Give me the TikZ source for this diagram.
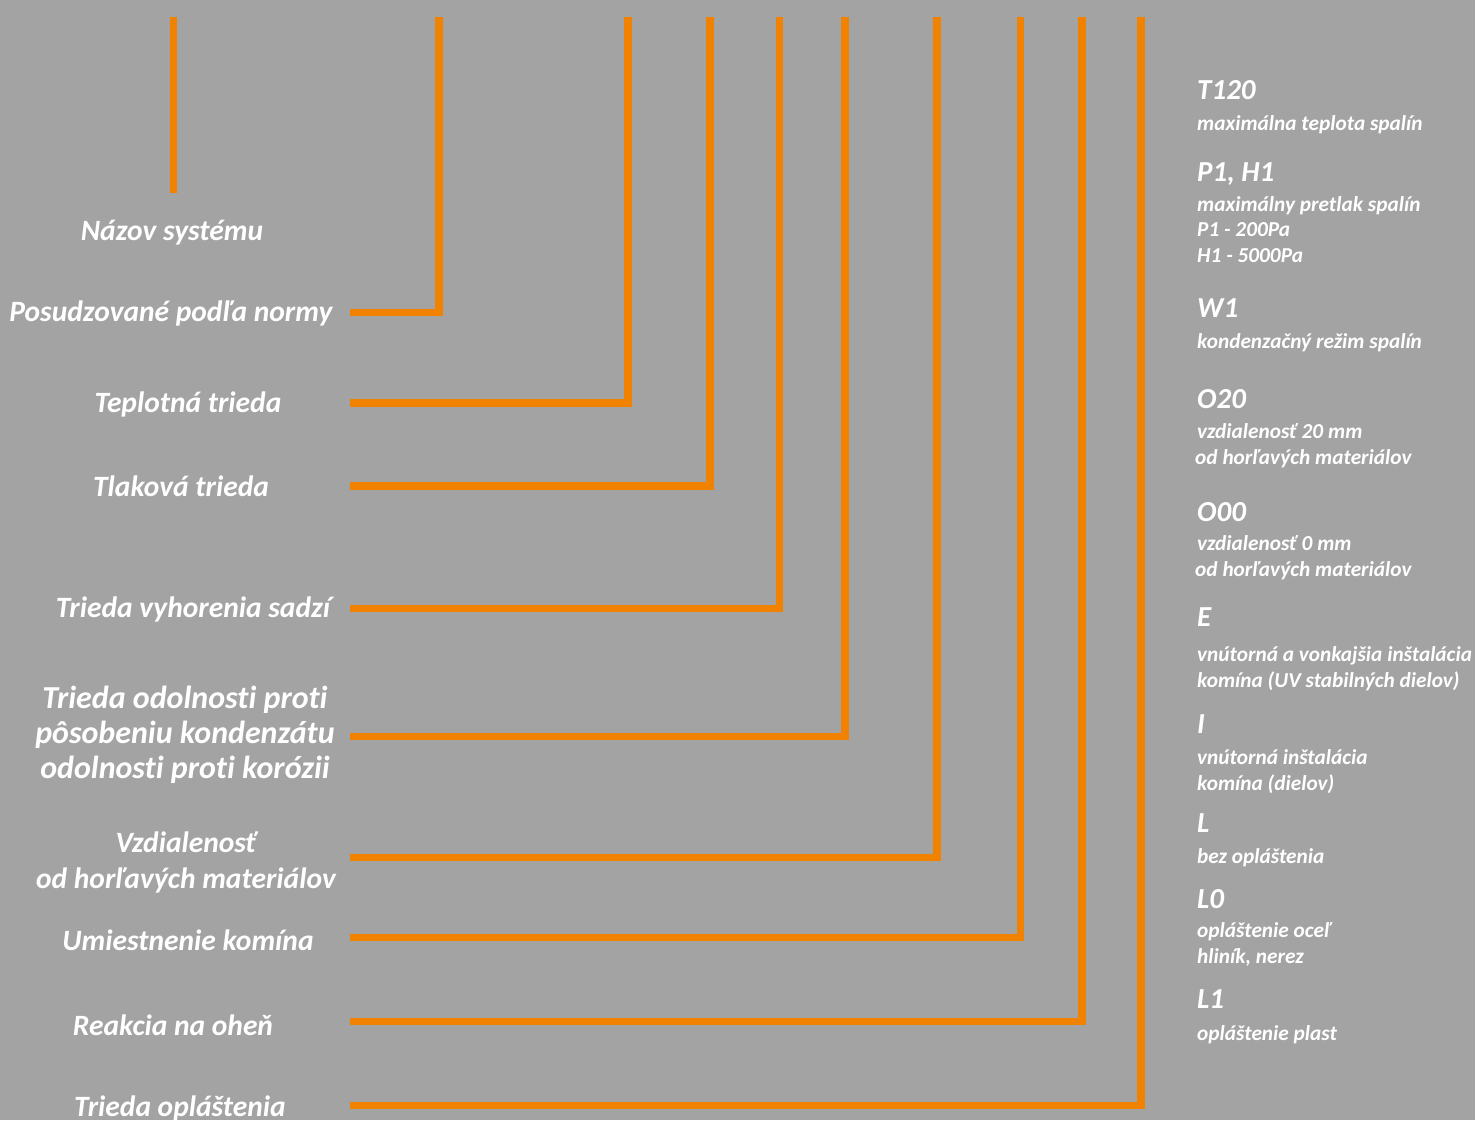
\documentclass[tikz,border=0pt]{standalone}
\usepackage{fontspec}
\setmainfont[Ligatures=NoCommon]{Carlito}
\usetikzlibrary{positioning}
\definecolor{kgray}{HTML}{A3A3A3}
\definecolor{korange}{HTML}{F08200}

\begin{document}
\begin{tikzpicture}[x=1pt,y=-1pt,
    lbl/.style={text=white, font=\fontsize{29.5}{35.5}\selectfont\bfseries\itshape, align=center, anchor=base, inner sep=0pt},
    code/.style={text=white, font=\fontsize{29}{33}\selectfont\bfseries\itshape, anchor=base west, inner sep=0pt},
    desc/.style={text=white, font=\fontsize{21.3}{25.8}\selectfont\bfseries\itshape, align=left, anchor=base west, inner sep=0pt},
    lead/.style={korange, line width=7.5pt, line join=miter}]
  \useasboundingbox (0,0) rectangle (1475,1120);
  \fill[kgray] (0,0) rectangle (1475,1120);
  % leader lines
  \coordinate (n0) at (173.5,17);
  \coordinate (n1) at (173.5,193);
  \draw[lead] (n0) -- (n1);
  \foreach \i/\x/\y in {1/439/312.5, 2/628/403, 3/710/486, 4/779.5/608.5, 5/845/736.5,
                        6/937/857.5, 7/1020.5/937.5, 8/1082/1021.5, 9/1141/1105.5}{
    \coordinate (s\i) at (350,\y);
    \coordinate (t\i) at (\x,17);
    \draw[lead] (s\i) -| (t\i);
  }
  % left labels (multi-line ones sit on their last line)
  \node[lbl] (nazov) at (172,240.7) {Názov systému};
  \node[lbl] (norma) at (171,321.7) {Posudzované podľa normy};
  \node[lbl] (teplota) at (188,412.3) {Teplotná trieda};
  \node[lbl] (tlak) at (181,496) {Tlaková trieda};
  \node[lbl] (sadze) at (193,617) {Trieda vyhorenia sadzí};
  \node[lbl, font=\fontsize{32}{35}\selectfont\bfseries\itshape] (kondenzat) at (185,778.3) {Trieda odolnosti proti\\pôsobeniu kondenzátu\\odolnosti proti korózii};
  \node[lbl] (vzdial) at (186,888.3) {Vzdialenosť\\od horľavých materiálov};
  \node[lbl] (umiest) at (188,950.7) {Umiestnenie komína};
  \node[lbl] (reakcia) at (173,1035) {Reakcia na oheň};
  \node[lbl] (oplast) at (180,1116.7) {Trieda opláštenia};
  % right column
  \node[code] (t120) at (1197,99) {T120};
  \node[desc] (t120d) at (1197,130) {maximálna teplota spalín};
  \node[code] (p1h1) at (1197,181.7) {P1, H1};
  \node[desc] (p1h1d) at (1197,262.7) {maximálny pretlak spalín\\P1 - 200Pa\\H1 - 5000Pa};
  \node[code] (w1) at (1197,317.3) {W1};
  \node[desc] (w1d) at (1197,348.3) {kondenzačný režim spalín};
  \node[code] (o20) at (1197,408.3) {O20};
  \node[desc] (o20d) at (1197,464) {vzdialenosť 20 mm\\\hspace*{-2pt}od horľavých materiálov};
  \node[code] (o00) at (1197,521.7) {O00};
  \node[desc] (o00d) at (1197,576.7) {vzdialenosť 0 mm\\\hspace*{-2pt}od horľavých materiálov};
  \node[code] (e) at (1197,626.7) {E};
  \node[desc] (ed) at (1197,687.3) {vnútorná a vonkajšia inštalácia\\komína (UV stabilných dielov)};
  \node[code] (i) at (1197,733.3) {I};
  \node[desc] (id) at (1197,790.7) {vnútorná inštalácia\\komína (dielov)};
  \node[code] (l) at (1197,832.3) {L};
  \node[desc] (ld) at (1197,863.3) {bez opláštenia};
  \node[code] (l0) at (1197,908.3) {L0};
  \node[desc] (l0d) at (1197,963.3) {opláštenie oceľ\\hliník, nerez};
  \node[code] (l1) at (1197,1008.3) {L1};
  \node[desc] (l1d) at (1197,1040) {opláštenie plast};
\end{tikzpicture}
\end{document}
